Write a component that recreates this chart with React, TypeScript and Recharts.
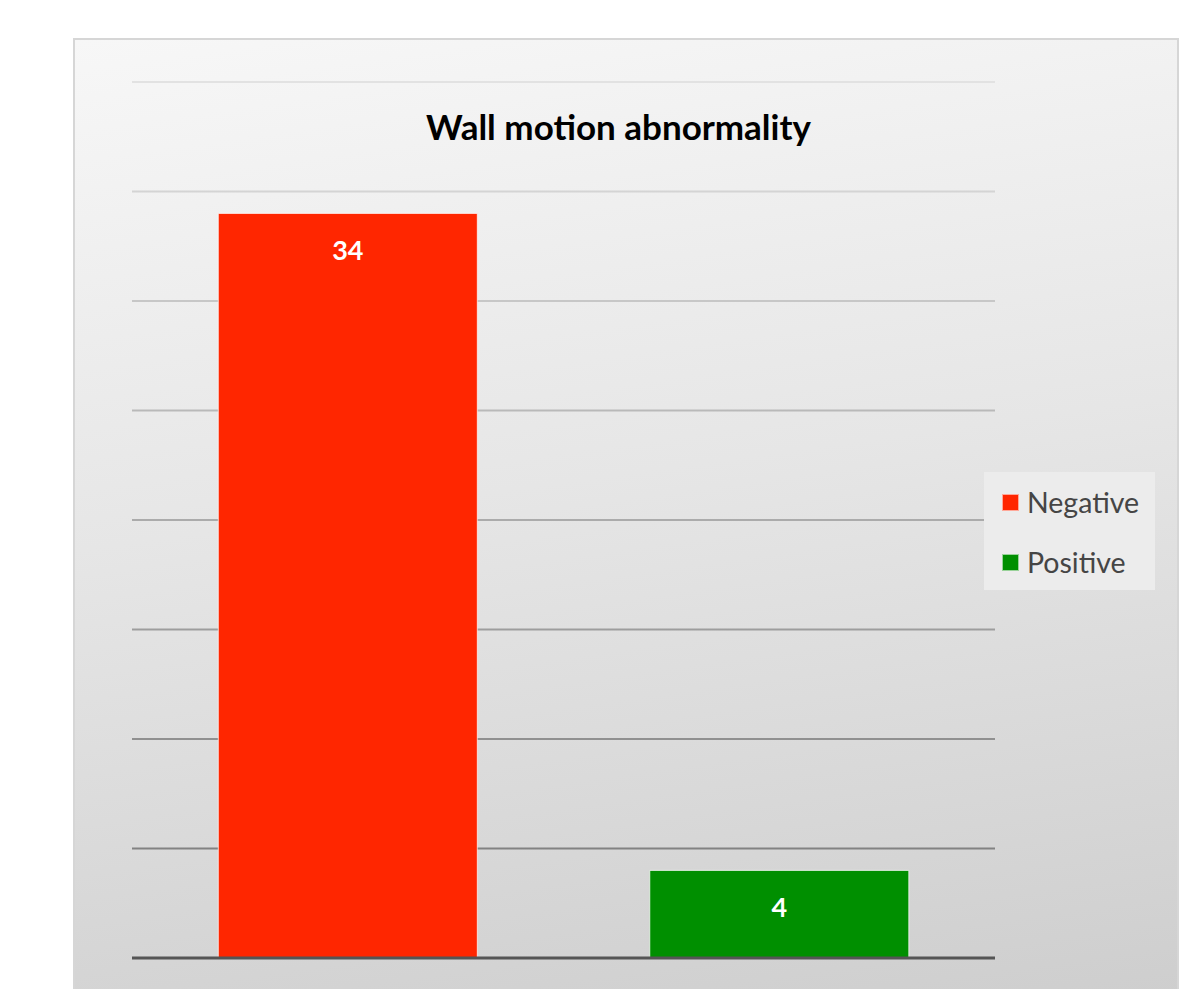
import { BarChart, Bar, XAxis, YAxis, CartesianGrid, Cell, LabelList, ReferenceLine } from 'recharts';

const categories = ['Negative', 'Positive'];
const counts = [34, 4];
const colors = ['#ff2600', '#008f00'];
const yTicks = [0, 5, 10, 15, 20, 25, 30, 35, 40];

const chartData = categories.map((name, i) => ({ name, value: counts[i] }));

const FONT = 'Lato, "Open Sans", sans-serif';

// grid lines get darker toward the bottom, like the original export
const gridShade = (y: number) => {
  const t = Math.min(1, Math.max(0, (y - 82) / 876));
  const v = Math.round(226 - t * 110);
  return `rgb(${v},${v},${v})`;
};

const GridLine = (props: any) => (
  <line x1={props.x1} y1={props.y1} x2={props.x2} y2={props.y2} stroke={gridShade(props.y1)} strokeWidth={2} />
);

const LegendBox = () => (
  <div
    style={{
      position: 'absolute',
      left: 984,
      top: 472,
      background: '#ececec',
      width: 171,
      height: 118,
      boxSizing: 'border-box',
      padding: '14px 0 0 18px',
      fontFamily: FONT,
      fontSize: 28.5,
      color: '#454545',
    }}
  >
    {categories.map((c, i) => (
      <div key={c} style={{ display: 'flex', alignItems: 'center', height: 32, marginBottom: i === 0 ? 28 : 0 }}>
        <span
          style={{
            display: 'inline-block',
            width: 15,
            height: 15,
            background: colors[i],
            border: '1px solid rgba(255,255,255,0.6)',
            marginRight: 8,
          }}
        />
        {c}
      </div>
    ))}
  </div>
);

export default function App() {
  return (
    <div style={{ position: 'absolute', left: 0, top: 0, width: 1197, height: 989, overflow: 'hidden', background: '#fff' }}>
      <div
        style={{
          position: 'absolute',
          left: 73,
          top: 38,
          width: 1102,
          height: 980,
          border: '2px solid #d6d6d6',
          background: 'linear-gradient(172deg, #f7f7f7 0%, #e6e6e6 45%, #cdcdcd 100%)',
        }}
      />
      <div
        style={{
          position: 'absolute',
          left: 0,
          width: 1237,
          top: 105,
          textAlign: 'center',
          fontFamily: FONT,
          fontWeight: 700,
          fontSize: 35,
          color: '#000',
        }}
      >
        Wall motion abnormality
      </div>
      <div style={{ position: 'absolute', left: 0, top: 0 }}>
        <BarChart
          width={1197}
          height={989}
          data={chartData}
          margin={{ top: 82, right: 202, left: 0, bottom: 30 }}
          barCategoryGap="20%"
        >
          <CartesianGrid vertical={false} horizontal={GridLine} />
          <XAxis dataKey="name" tick={false} height={1} axisLine={false} tickLine={false} />
          <YAxis
            width={132}
            domain={[0, 40]}
            ticks={yTicks}
            interval={0}
            tick={{ fill: 'transparent' }}
            axisLine={false}
            tickLine={false}
          />
          <Bar dataKey="value" isAnimationActive={false} stroke="#ffffff" strokeOpacity={0.7} strokeWidth={1}>
            {chartData.map((d, i) => (
              <Cell key={d.name} fill={colors[i]} />
            ))}
            <LabelList
              dataKey="value"
              position="insideTop"
              offset={27}
              fill="#ffffff"
              fontFamily={FONT}
              fontWeight={700}
              fontSize={27}
            />
          </Bar>
          <ReferenceLine y={0} stroke="#555555" strokeWidth={3} />
        </BarChart>
      </div>
      <LegendBox />
    </div>
  );
}
